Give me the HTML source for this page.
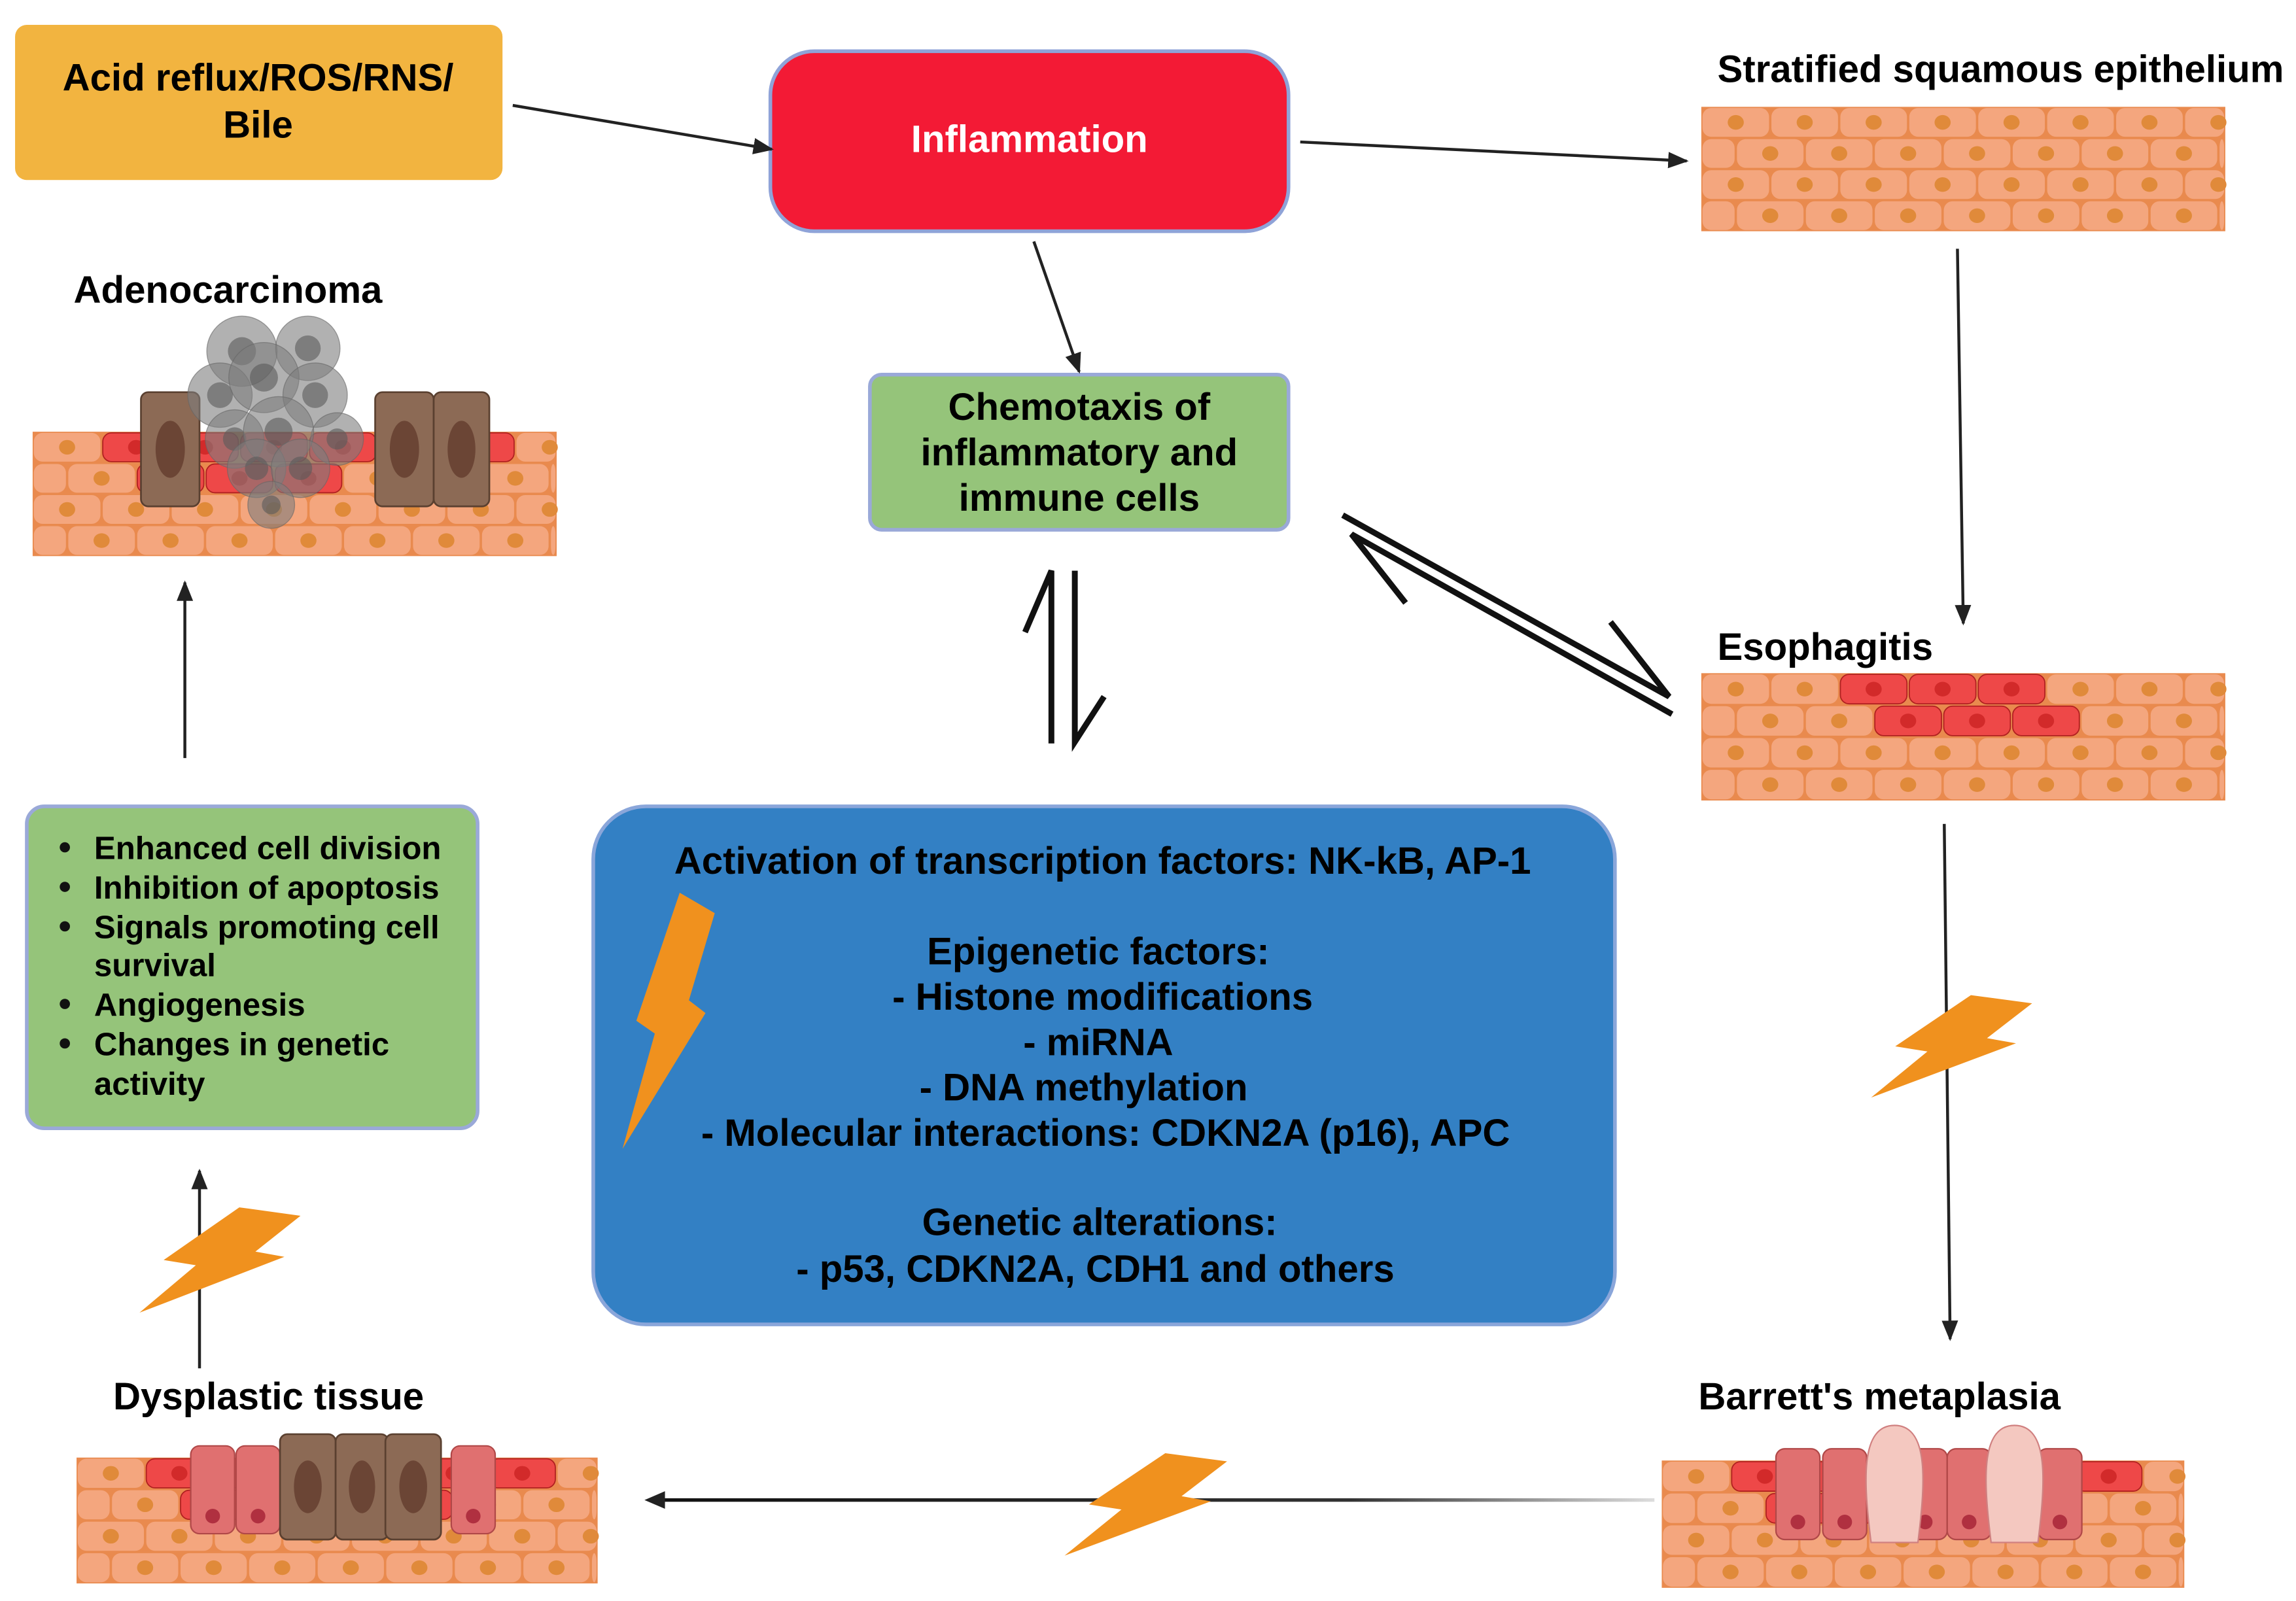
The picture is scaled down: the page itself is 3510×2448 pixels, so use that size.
<!DOCTYPE html>
<html><head><meta charset="utf-8">
<style>
html,body{margin:0;padding:0;background:#fff;}
svg{display:block;}
text{font-family:"Liberation Sans",sans-serif;font-weight:bold;}
</style></head>
<body>
<svg id="s" width="3510" height="2448" viewBox="0 0 1568 1094" xmlns="http://www.w3.org/2000/svg">
<defs>
<marker id="ah2" viewBox="0 0 10 10" refX="9" refY="5" markerWidth="14" markerHeight="14" orient="auto" markerUnits="userSpaceOnUse">
<path d="M0,1 L10,5 L0,9 z" fill="#222"/></marker>
<linearGradient id="gl" gradientUnits="userSpaceOnUse" x1="440" y1="0" x2="1130" y2="0"><stop offset="0" stop-color="#111"/><stop offset="0.7" stop-color="#333"/><stop offset="1" stop-color="#ddd"/></linearGradient>
</defs>
<rect width="1568" height="1094" fill="#fff"/>

<rect x="10" y="17" width="333" height="106" rx="8" fill="#F2B440"/>
<text x="176" y="62" font-size="26" text-anchor="middle">Acid reflux/ROS/RNS/</text>
<text x="176" y="94" font-size="26" text-anchor="middle">Bile</text>

<rect x="526" y="35" width="354" height="123" rx="30" fill="#F31A35" stroke="#8fa3d8" stroke-width="2.5"/>
<text x="703" y="104" font-size="26" fill="#fff" text-anchor="middle">Inflammation</text>

<rect x="594" y="256" width="286" height="106" rx="8" fill="#95C47A" stroke="#9aa9d8" stroke-width="2.5"/>
<text x="737" y="287" font-size="26" text-anchor="middle">Chemotaxis of</text>
<text x="737" y="318" font-size="26" text-anchor="middle">inflammatory and</text>
<text x="737" y="349" font-size="26" text-anchor="middle">immune cells</text>

<rect x="405" y="551" width="698" height="354" rx="36" fill="#3380C4" stroke="#8aa6da" stroke-width="2.5"/>
<g font-size="26" text-anchor="middle">
<text x="753" y="597">Activation of transcription factors: NK-kB, AP-1</text>
<text x="750" y="659">Epigenetic factors:</text>
<text x="753" y="690">- Histone modifications</text>
<text x="750" y="721">- miRNA</text>
<text x="740" y="752">- DNA methylation</text>
<text x="755" y="783">- Molecular interactions: CDKN2A (p16), APC</text>
<text x="751" y="844">Genetic alterations:</text>
<text x="748" y="876">- p53, CDKN2A, CDH1 and others</text>
</g>

<rect x="18" y="551" width="308" height="220" rx="12" fill="#95C47A" stroke="#9aa9d8" stroke-width="2.5"/>
<g font-size="22">
<text x="64" y="587">Enhanced cell division</text>
<text x="64" y="614">Inhibition of apoptosis</text>
<text x="64" y="641">Signals promoting cell</text>
<text x="64" y="667">survival</text>
<text x="64" y="694">Angiogenesis</text>
<text x="64" y="721">Changes in genetic</text>
<text x="64" y="748">activity</text>
</g>
<g fill="#111"><circle cx="44" cy="579" r="3.5"/><circle cx="44" cy="606" r="3.5"/><circle cx="44" cy="633" r="3.5"/><circle cx="44" cy="686" r="3.5"/><circle cx="44" cy="713" r="3.5"/></g>

<g font-size="26">
<text x="1173" y="56">Stratified squamous epithelium</text>
<text x="50" y="207">Adenocarcinoma</text>
<text x="1173" y="451">Esophagitis</text>
<text x="1160" y="963">Barrett's metaplasia</text>
<text x="77" y="963">Dysplastic tissue</text>
</g>

<g id="tissues"></g>

<g stroke="#222" stroke-width="2" fill="none">
<line x1="350" y1="72" x2="527" y2="102" marker-end="url(#ah2)"/>
<line x1="888" y1="97" x2="1152" y2="110" marker-end="url(#ah2)"/>
<line x1="706" y1="165" x2="737" y2="254" marker-end="url(#ah2)"/>
<line x1="1337" y1="170" x2="1341" y2="426" marker-end="url(#ah2)"/>
<line x1="1328" y1="563" x2="1332" y2="915" marker-end="url(#ah2)"/>
<line x1="136" y1="935" x2="136" y2="800" marker-end="url(#ah2)"/>
<line x1="126" y1="518" x2="126" y2="398" marker-end="url(#ah2)"/>
</g>
<rect x="446" y="1023.8" width="684" height="2.4" fill="url(#gl)"/>
<path d="M440,1025 L454,1019 L454,1031 z" fill="#222"/>

<g stroke="#111" stroke-width="4" fill="none" stroke-linecap="butt">
<path d="M718,508 L718,390 L700,432"/>
<path d="M734,390 L734,507 L754,476"/>
<path d="M1142,488 L923,365 L960,412"/>
<path d="M917,352 L1140,476 L1100,425"/>
</g>

<g fill="#F0911E" id="bolts"></g>
</svg>
<script>
var NS="http://www.w3.org/2000/svg";
function el(t,a,p){var e=document.createElementNS(NS,t);for(var k in a)e.setAttribute(k,a[k]);p.appendChild(e);return e;}
var T=document.getElementById('tissues');
function tissue(x,y,w,h,reds){
  var g=el('g',{},T);
  el('rect',{x:x,y:y,width:w,height:h,fill:'#E98A4E'},g);
  var rh=h/4,cw=w/7.6;
  for(var r=0;r<4;r++){
    var off=(r%2)?-cw/2:0;
    for(var c=-1;c<9;c++){
      var cx=x+off+c*cw;
      var x0=Math.max(cx,x),x1=Math.min(cx+cw,x+w);
      if(x1-x0<3)continue;
      var red=reds&&reds.some(function(q){return q[0]==r&&q[1]==c;});
      el('rect',{x:x0+0.8,y:y+r*rh+0.8,width:x1-x0-1.6,height:rh-1.6,rx:6,fill:red?'#EE4848':'#F4A67E',stroke:red?'#B02020':'none','stroke-width':0.8},g);
      var nx=cx+cw/2;
      if(nx>x+3&&nx<x+w-3)el('ellipse',{cx:nx,cy:y+r*rh+rh/2,rx:5.5,ry:5,fill:red?'#D22A2A':'#E08A3A'},g);
    }
  }
  return g;
}
tissue(1162,73,358,85,[]);
tissue(1162,460,358,87,[[0,2],[0,3],[0,4],[1,3],[1,4],[1,5]]);
var a=tissue(22,295,358,85,[[0,1],[0,2],[0,3],[0,4],[0,5],[0,6],[1,2],[1,3],[1,4]]);
var b=tissue(1135,998,357,87,[[0,1],[0,2],[0,3],[0,4],[0,5],[0,6],[1,2],[1,3],[1,4],[1,5]]);
var d=tissue(52,996,356,86,[[0,1],[0,2],[0,3],[0,4],[0,5],[0,6],[1,2],[1,3],[1,4],[1,5]]);
function brown(g,x,y,w,h){el('rect',{x:x,y:y,width:w,height:h,rx:5,fill:'#8C6A55',stroke:'#5a4030','stroke-width':1.2},g);el('ellipse',{cx:x+w/2,cy:y+h/2,rx:w/4,ry:h/4,fill:'#6B4535'},g);}
function pink(g,x,y,w,h){el('rect',{x:x,y:y,width:w,height:h,rx:6,fill:'#E07070',stroke:'#B04848','stroke-width':1},g);el('circle',{cx:x+w/2,cy:y+h-12,r:5,fill:'#B03040'},g);}
brown(a,96,268,40,78);brown(a,256,268,40,78);brown(a,296,268,38,78);
var blob=[[165,240,24],[210,238,22],[150,270,22],[180,258,24],[215,270,22],[230,300,18],[160,300,20],[190,295,24],[175,320,20],[205,320,20],[185,345,16]];
blob.forEach(function(p){el('circle',{cx:p[0],cy:p[1],r:p[2],fill:'#7d7d7d','fill-opacity':0.6,stroke:'#666','stroke-width':0.6,'stroke-opacity':0.6},a);el('circle',{cx:p[0],cy:p[1],r:p[2]*0.4,fill:'#5a5a5a','fill-opacity':0.6},a);});
pink(d,130,988,30,60);pink(d,161,988,30,60);pink(d,308,988,30,60);
brown(d,191,980,38,72);brown(d,229,980,36,72);brown(d,263,980,38,72);
pink(b,1213,990,30,62);pink(b,1245,990,30,62);pink(b,1300,990,30,62);pink(b,1330,990,30,62);pink(b,1392,990,30,62);
[[1278,974],[1360,974]].forEach(function(p){el('path',{d:'M'+p[0]+','+(p[1]+80)+' C'+(p[0]-5)+','+(p[1]+40)+' '+(p[0]-8)+','+p[1]+' '+(p[0]+16)+','+p[1]+' C'+(p[0]+40)+','+p[1]+' '+(p[0]+37)+','+(p[1]+40)+' '+(p[0]+32)+','+(p[1]+80)+' z',fill:'#F4C8C0',stroke:'#D08080','stroke-width':1},b);});
var B=document.getElementById('bolts');
function bolt(x,y,w,h){var P=[[0.62,0],[1,0.08],[0.72,0.42],[0.9,0.47],[0,1],[0.35,0.55],[0.15,0.5]];
 el('polygon',{points:P.map(function(p){return (x+p[0]*w)+','+(y+p[1]*h);}).join(' ')},B);}
bolt(425,610,63,175);
bolt(1278,680,110,70);
bolt(95,825,110,72);
bolt(727,993,111,70);
</script>
</body></html>
